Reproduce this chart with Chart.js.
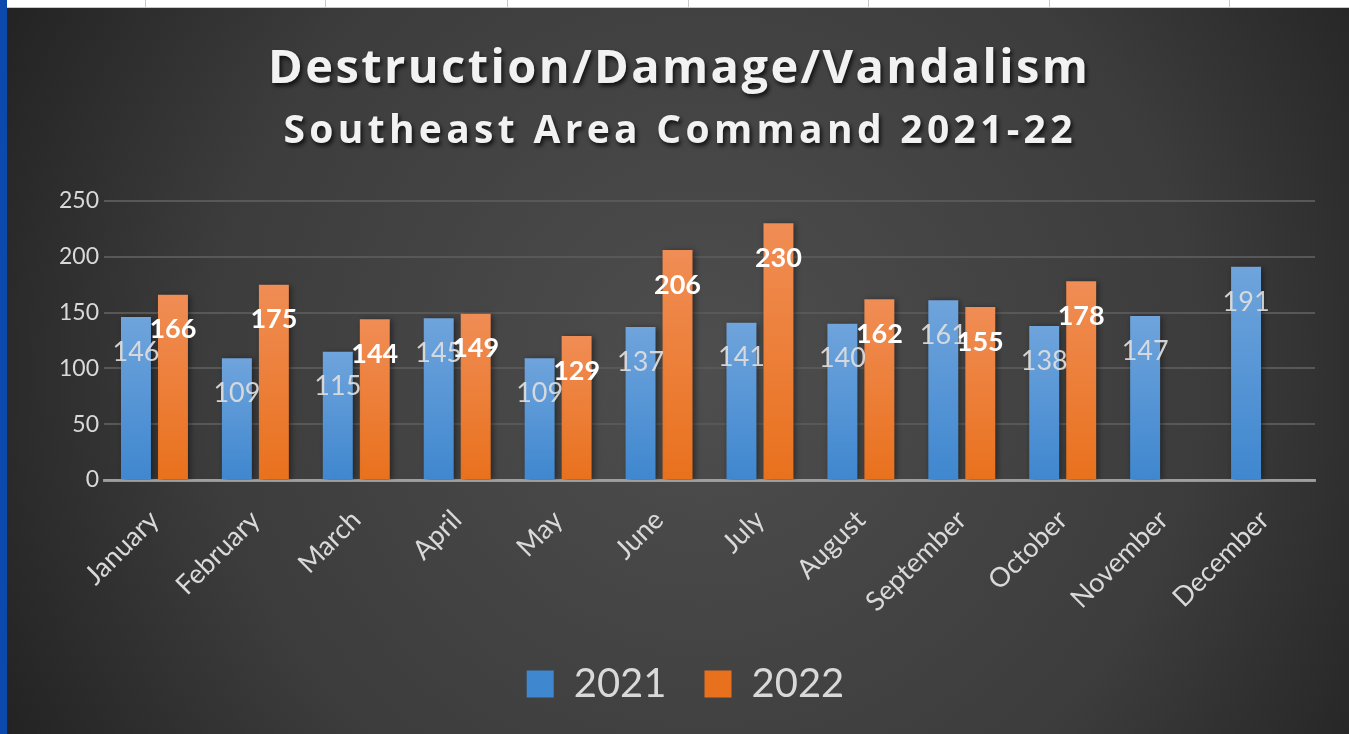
<!DOCTYPE html>
<html>
<head>
<meta charset="utf-8">
<title>Destruction/Damage/Vandalism</title>
<script src="https://cdn.jsdelivr.net/npm/chart.js@4.4.1/dist/chart.umd.min.js"></script>
<style>
  html, body { margin: 0; padding: 0; background: #fff; overflow: hidden; }
  #edge { position: absolute; left: 0; top: 0; width: 7px; height: 734px; background: #0b49ad; }
  #strip { position: absolute; left: 7px; top: 0; width: 1342px; height: 7px; background: #fff; border-bottom: 1px solid #c8c8c8; }
  .cell { position: absolute; top: 0; width: 1px; height: 7px; background: #c8c8c8; }
  #wrap { position: absolute; left: 7px; top: 8px; width: 1342px; height: 726px; }
</style>
</head>
<body>
<div id="edge"></div>
<div id="strip"></div>
<div id="wrap"><canvas id="chart"></canvas></div>
<script>
// header cells of the sheet behind the chart
[145, 325, 507, 688, 868, 1049, 1229].forEach(function(x) {
    var d = document.createElement('div');
    d.className = 'cell';
    d.style.left = (x - 7) + 'px';
    document.getElementById('strip').appendChild(d);
});

var months = ['January', 'February', 'March', 'April', 'May', 'June', 'July',
    'August', 'September', 'October', 'November', 'December'];
var values2021 = [146, 109, 115, 145, 109, 137, 141, 140, 161, 138, 147, 191];
var values2022 = [166, 175, 144, 149, 129, 206, 230, 162, 155, 178, null, null];
var seriesNames = ['2021', '2022'];
var titleText = 'Destruction/Damage/Vandalism';
var subtitleText = 'Southeast Area Command 2021-22';

var FONT = 'Lato, "Open Sans", sans-serif';
var TITLE_FONT = '"Open Sans", Lato, sans-serif';

// vertical gradient for each bar, lighter at its top
function barFill(top, bottom) {
    return function(ctx) {
        var chart = ctx.chart;
        var area = chart.chartArea;
        if (!area || ctx.raw == null) return bottom;
        var yTop = chart.scales.y.getPixelForValue(ctx.raw);
        var g = chart.ctx.createLinearGradient(0, yTop, 0, area.bottom);
        g.addColorStop(0, top);
        g.addColorStop(1, bottom);
        return g;
    };
}

var backdrop = {
    id: 'backdrop',
    beforeDraw: function(chart) {
        var c = chart.ctx, w = chart.width, h = chart.height;
        c.save();
        var g = c.createRadialGradient(w * 0.52, h * 0.5, 0, w * 0.52, h * 0.5, w * 0.62);
        g.addColorStop(0, '#4e4e4e');
        g.addColorStop(0.6, '#3c3c3c');
        g.addColorStop(1, '#1f1f1f');
        c.fillStyle = g;
        c.fillRect(0, 0, w, h);

        // title and subtitle, spaced out like the original
        c.fillStyle = '#f2f2f2';
        c.textAlign = 'center';
        c.textBaseline = 'middle';
        c.shadowColor = 'rgba(0,0,0,0.75)';
        c.shadowBlur = 4;
        c.shadowOffsetX = 2;
        c.shadowOffsetY = 3;
        drawSpaced(c, titleText, 'bold 47px ' + TITLE_FONT, 820, w / 2, 62);
        drawSpaced(c, subtitleText, 'bold 39px ' + TITLE_FONT, 789, w / 2, 124);
        c.restore();

        function drawSpaced(c, text, font, width, x, y) {
            c.font = font;
            c.letterSpacing = '0px';
            var raw = c.measureText(text).width;
            var sp = Math.max(0, (width - raw) / (text.length - 1));
            c.letterSpacing = sp + 'px';
            c.fillText(text, x + sp / 2, y);
        }
    },
    beforeDatasetsDraw: function(chart) {
        var c = chart.ctx;
        c.save();
        c.shadowColor = 'rgba(0,0,0,0.45)';
        c.shadowBlur = 6;
        c.shadowOffsetX = 2;
        c.shadowOffsetY = 1;
    },
    afterDatasetsDraw: function(chart) {
        var c = chart.ctx;
        c.restore();
        // value labels sit a little inside the top of each bar
        c.save();
        c.textAlign = 'center';
        c.textBaseline = 'middle';
        chart.data.datasets.forEach(function(ds, i) {
            var meta = chart.getDatasetMeta(i);
            c.font = (i === 0 ? '' : 'bold ') + '27px ' + FONT;
            c.fillStyle = i === 0 ? 'rgba(222,222,222,0.92)' : '#ffffff';
            meta.data.forEach(function(bar, j) {
                if (ds.data[j] == null) return;
                c.fillText(String(ds.data[j]), bar.x, bar.y + 35);
            });
        });
        c.restore();
    }
};

new Chart(document.getElementById('chart'), {
    type: 'bar',
    data: {
        labels: months,
        datasets: [{
            label: seriesNames[0],
            data: values2021,
            backgroundColor: barFill('#6fa4dc', '#3f87cf')
        }, {
            label: seriesNames[1],
            data: values2022,
            backgroundColor: barFill('#f08d55', '#e9711d')
        }]
    },
    options: {
        responsive: true,
        maintainAspectRatio: false,
        animation: false,
        categoryPercentage: 0.733,
        barPercentage: 0.81,
        layout: { padding: { left: 49, right: 34, top: 193, bottom: 20 } },
        plugins: {
            title: { display: false },
            tooltip: { enabled: false },
            legend: {
                position: 'bottom',
                labels: {
                    color: '#d9d9d9',
                    font: { family: FONT, size: 40 },
                    boxWidth: 27,
                    boxHeight: 27,
                    padding: 38
                }
            }
        },
        scales: {
            x: {
                z: 1,
                afterFit: function(s) { s.height = 146; },
                grid: { display: false },
                border: { color: 'rgba(190,190,190,0.7)', width: 3 },
                ticks: {
                    color: '#d9d9d9',
                    font: { family: FONT, size: 27 },
                    minRotation: 45,
                    maxRotation: 45,
                    padding: 16
                }
            },
            y: {
                min: 0,
                max: 250,
                afterFit: function(s) { s.width = 48; },
                grid: { color: '#585858', lineWidth: 2, drawTicks: false },
                border: { display: false },
                ticks: {
                    stepSize: 50,
                    color: '#d9d9d9',
                    font: { family: FONT, size: 23 },
                    padding: 5
                }
            }
        }
    },
    plugins: [backdrop]
});
</script>
</body>
</html>
